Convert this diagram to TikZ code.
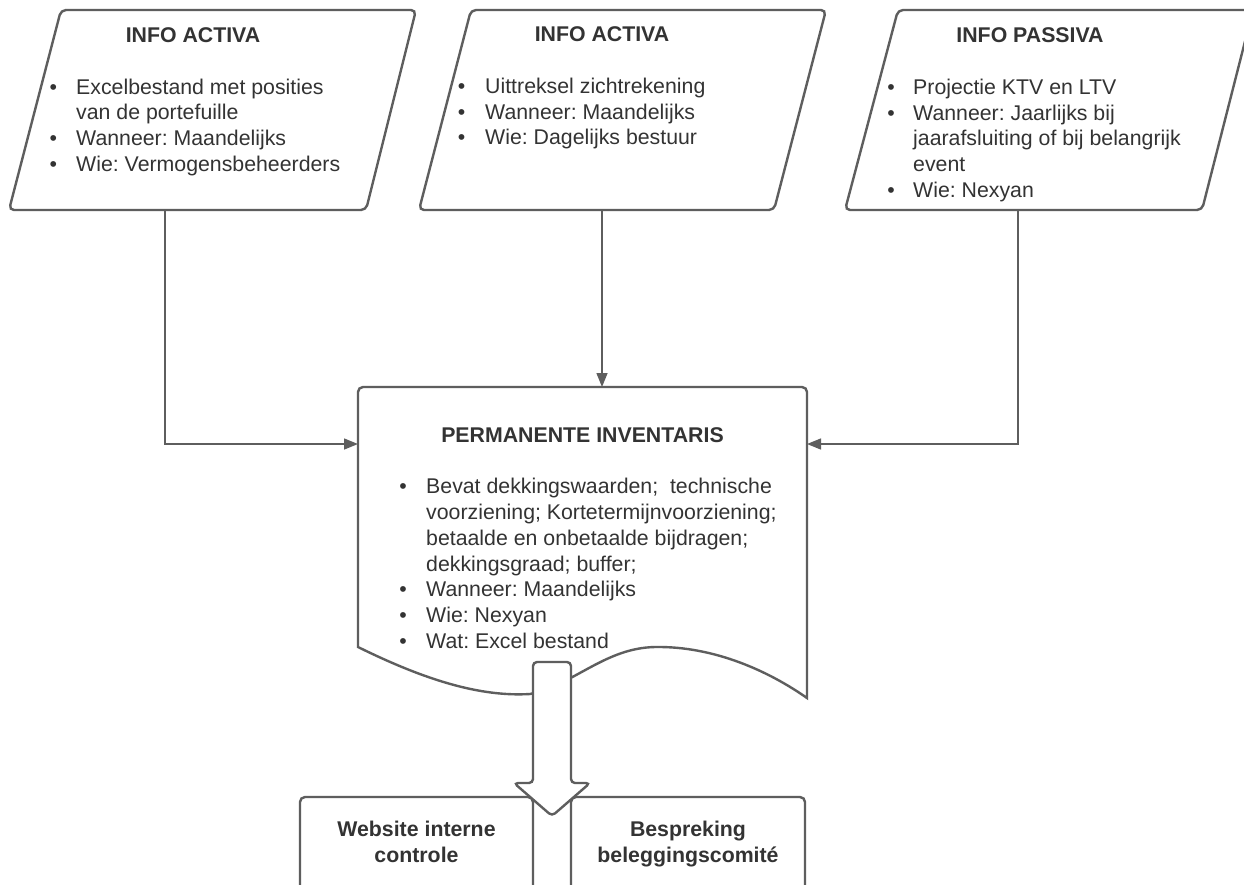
\documentclass[tikz,border=0pt]{standalone}
\usepackage{fontspec}
\setmainfont{Liberation Sans}
\usetikzlibrary{arrows.meta}
\definecolor{lineC}{HTML}{5E5E5E}
\definecolor{textC}{HTML}{333333}
\frenchspacing
\begin{document}
\begin{tikzpicture}[x=1pt,y=-1pt,
 shapeline/.style={draw=lineC,line width=2.4pt,rounded corners=5pt,fill=white},
 docline/.style={draw=lineC,line width=2.4pt,fill=white},
 conn/.style={draw=lineC,line width=1.4pt,-{Triangle[length=14pt,width=11pt]}},
 txt/.style={text=textC,font=\fontsize{21.3}{26}\selectfont,inner sep=0pt,anchor=base west},
 ttl/.style={text=textC,font=\fontsize{21.3}{26}\selectfont\bfseries,inner sep=0pt,anchor=base},
 bul/.style={text=textC,font=\fontsize{21.3}{26}\selectfont,inner sep=0pt,anchor=base},
]
\useasboundingbox (0,0) rectangle (1244,884);
\clip (0,0) rectangle (1244,884);
\fill[white] (0,0) rectangle (1244,884);

% input parallelograms
\draw[shapeline] (61,10) -- (416,10) -- (366,210) -- (9,210) -- cycle;
\draw[shapeline] (471,10) -- (826,10) -- (774,210) -- (419,210) -- cycle;
\draw[shapeline] (898,10) -- (1253,10) -- (1202,210) -- (845,210) -- cycle;

% connector end points
\coordinate (p1) at (165,210);
\coordinate (p2) at (602,210);
\coordinate (p3) at (1018,210);
\coordinate (docL) at (358,444);
\coordinate (docT) at (602,387);
\coordinate (docR) at (807,444);

\draw[conn] (p1) |- (docL);
\draw[conn] (p2) -- (docT);
\draw[conn] (p3) |- (docR);

% document shape
\draw[docline] (358,647) -- (358,392) arc[start angle=180,end angle=270,radius=5]
  -- (802,387) arc[start angle=270,end angle=360,radius=5]
  -- (807,698)
  .. controls (770,672) and (715,646) .. (655,647)
  .. controls (605,648) and (575,684) .. (530,694)
  .. controls (480,697) and (425,680) .. (358,647) -- cycle;

% bottom boxes
\draw[shapeline] (300,797) rectangle (533,905);
\draw[shapeline] (571,797) rectangle (805,905);

% block arrow
\draw[shapeline,rounded corners=4pt] (533,662) -- (571,662) -- (571,783) -- (590,783)
  -- (552,816) -- (514,783) -- (533,783) -- cycle;

% texts box 1
\node[ttl] (t1) at (193,42) {INFO ACTIVA};
\node[bul] (b11) at (53.3,94) {•};
\node[txt] (l11) at (76,94) {Excelbestand met posities};
\node[txt] (l12) at (76,119.7) {van de portefuille};
\node[bul] (b12) at (53.3,145.4) {•};
\node[txt] (l13) at (76,145.4) {Wanneer: Maandelijks};
\node[bul] (b13) at (53.3,171.1) {•};
\node[txt] (l14) at (76,171.1) {Wie: Vermogensbeheerders};

% texts box 2
\node[ttl] (t2) at (602,41) {INFO ACTIVA};
\node[bul] (b21) at (461.7,93.5) {•};
\node[txt] (l21) at (485,93.5) {Uittreksel zichtrekening};
\node[bul] (b22) at (461.7,119) {•};
\node[txt] (l22) at (485,119) {Wanneer: Maandelijks};
\node[bul] (b23) at (461.7,144.5) {•};
\node[txt] (l23) at (485,144.5) {Wie: Dagelijks bestuur};

% texts box 3
\node[ttl] (t3) at (1030,42) {INFO PASSIVA};
\node[bul] (b31) at (891,94) {•};
\node[txt] (l31) at (913,94) {Projectie KTV en LTV};
\node[bul] (b32) at (891,120) {•};
\node[txt] (l32) at (913,120) {Wanneer: Jaarlijks bij};
\node[txt] (l33) at (913,145.7) {jaarafsluiting of bij belangrijk};
\node[txt] (l34) at (913,171.4) {event};
\node[bul] (b33) at (891,197.1) {•};
\node[txt] (l35) at (913,197.1) {Wie: Nexyan};

% document texts
\node[ttl] (t4) at (582.5,442) {PERMANENTE INVENTARIS};
\node[bul] (b41) at (403,493.3) {•};
\node[txt] (l41) at (426,493.3) {Bevat dekkingswaarden;\ \ technische};
\node[txt] (l42) at (426,519.2) {voorziening; Kortetermijnvoorziening;};
\node[txt] (l43) at (426,545.1) {betaalde en onbetaalde bijdragen;};
\node[txt] (l44) at (426,571) {dekkingsgraad; buffer;};
\node[bul] (b42) at (403,596.9) {•};
\node[txt] (l45) at (426,596.9) {Wanneer: Maandelijks};
\node[bul] (b43) at (403,622.8) {•};
\node[txt] (l46) at (426,622.8) {Wie: Nexyan};
\node[bul] (b44) at (403,648.7) {•};
\node[txt] (l47) at (426,648.7) {Wat: Excel bestand};

% bottom box texts
\node[ttl] (t5) at (416.5,836) {Website interne};
\node[ttl] (t6) at (416.5,862) {controle};
\node[ttl] (t7) at (688,836) {Bespreking};
\node[ttl] (t8) at (688,862) {beleggingscomité};
\end{tikzpicture}
\end{document}
